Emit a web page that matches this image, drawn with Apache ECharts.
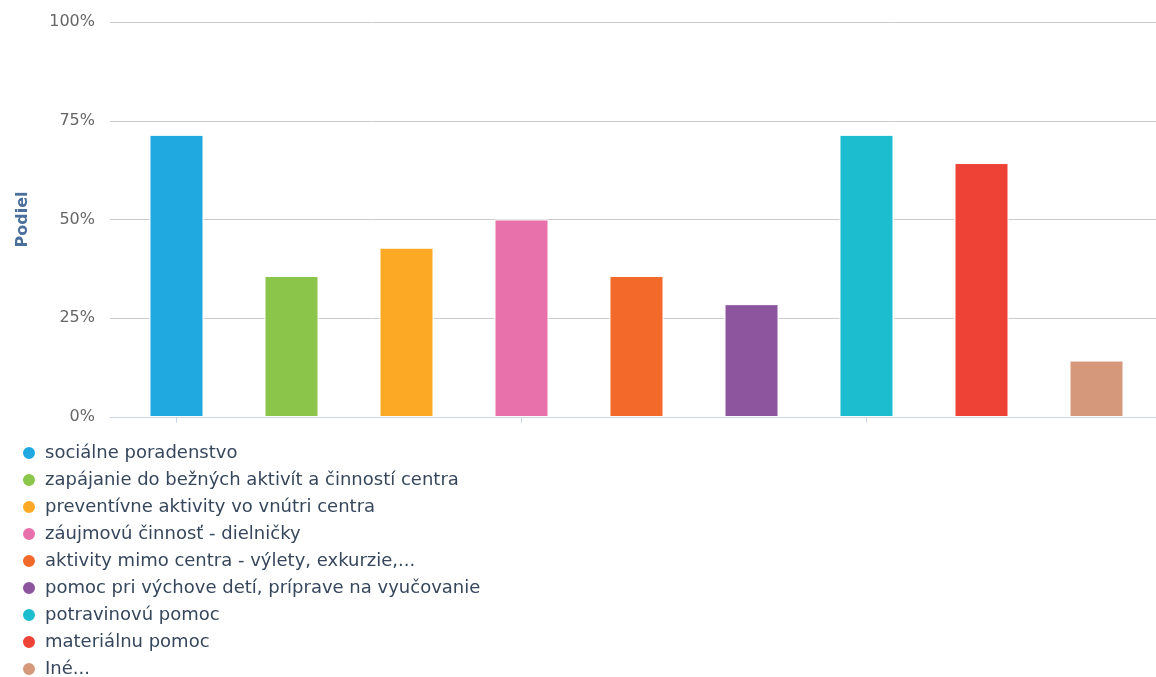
<!DOCTYPE html>
<html>
<head>
<meta charset="utf-8">
<script src="https://cdn.jsdelivr.net/npm/echarts@6/dist/echarts.min.js"></script>
<style>
  html, body { margin: 0; padding: 0; background: #fff; }
  #chart { width: 1156px; height: 677px; }
</style>
</head>
<body>
<div id="chart"></div>
<script>
// Služby – podiel odpovedí (%)
const categories = [
  'sociálne poradenstvo',
  'zapájanie do bežných aktivít a činností centra',
  'preventívne aktivity vo vnútri centra',
  'záujmovú činnosť - dielničky',
  'aktivity mimo centra - výlety, exkurzie,...',
  'pomoc pri výchove detí, príprave na vyučovanie',
  'potravinovú pomoc',
  'materiálnu pomoc',
  'Iné...'
];
const values = [71.43, 35.71, 42.86, 50, 35.71, 28.57, 71.43, 64.29, 14.29];
const colors = ['#20a8e0', '#8bc54a', '#fcaa26', '#e870ab', '#f2692a', '#8e559f', '#1cbdcf', '#ef4237', '#d5987b'];
const yTicks = [0, 25, 50, 75, 100];

const chart = echarts.init(document.getElementById('chart'), null, { renderer: 'canvas' });

// one series per category so that each gets its own legend entry;
// stacking keeps every bar centred on its own category
const series = categories.map((name, i) => ({
  name: name,
  type: 'bar',
  stack: 'all',
  xAxisIndex: 1,
  yAxisIndex: 1,
  barWidth: 54,
  itemStyle: { color: colors[i], borderColor: '#ffffff', borderWidth: 1 },
  data: categories.map((_, j) => (j === i ? values[i] : null)),
  z: 3
}));

chart.setOption({
  animation: false,
  backgroundColor: '#ffffff',
  legend: {
    orient: 'vertical',
    left: 21,
    top: 444,
    height: 260,
    padding: 0,
    icon: 'circle',
    itemWidth: 14,
    itemHeight: 14,
    itemGap: 9,
    selectedMode: false,
    data: categories,
    textStyle: {
      fontFamily: 'DejaVu Sans', fontSize: 18, color: '#36475c',
      lineHeight: 18, padding: [0, 0, 0, 4]
    }
  },
  grid: [
    { left: 110, right: 0, top: 22, bottom: 260 },
    { left: 119, width: 1035, top: 22, bottom: 260 }
  ],
  xAxis: [
    {
      gridIndex: 0, type: 'value', min: 0, max: 1,
      axisLine: { show: true, lineStyle: { color: '#ccd6eb', width: 1 } },
      axisTick: { show: false }, axisLabel: { show: false }, splitLine: { show: false }
    },
    {
      gridIndex: 1, type: 'category', data: categories,
      axisLine: { show: false },
      axisTick: { show: true, alignWithLabel: true, length: 6, lineStyle: { color: '#ccd6eb' } },
      axisLabel: { show: false }
    }
  ],
  yAxis: [
    {
      gridIndex: 0, type: 'value', min: 0, max: 100, interval: 25,
      name: 'Podiel', nameLocation: 'middle', nameGap: 79, nameRotate: 90,
      nameTextStyle: { fontFamily: 'DejaVu Sans', fontSize: 16, fontWeight: 'bold', color: '#4a6f9b' },
      axisLine: { show: false }, axisTick: { show: false },
      axisLabel: {
        margin: 15, fontFamily: 'DejaVu Sans', fontSize: 16, color: '#666666',
        formatter: v => (yTicks.includes(v) ? v + '%' : '')
      },
      splitLine: { show: true, lineStyle: { color: '#cccccc', width: 1 } }
    },
    {
      gridIndex: 1, type: 'value', min: 0, max: 100, interval: 25,
      axisLine: { show: false }, axisTick: { show: false }, axisLabel: { show: false }, splitLine: { show: false }
    }
  ],
  series: series
});
</script>
</body>
</html>
